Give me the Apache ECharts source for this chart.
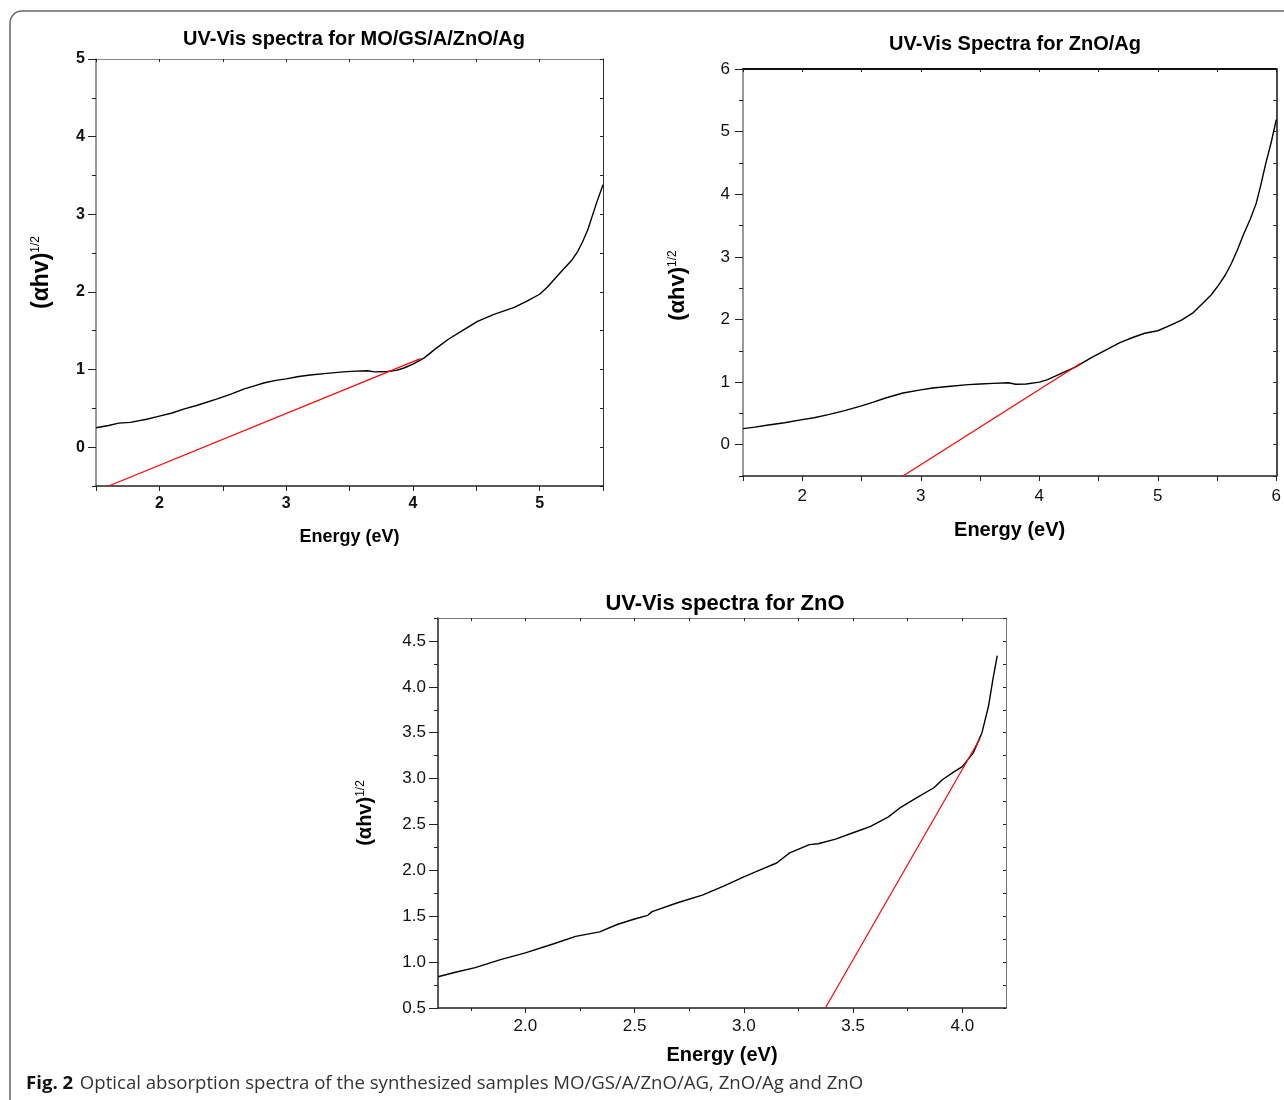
<!DOCTYPE html>
<html>
<head>
<meta charset="utf-8" />
<script src="https://cdn.jsdelivr.net/npm/echarts@6/dist/echarts.min.js"></script>
<style>
  html, body, #main { width: 100%; height: 100%; margin: 0; background: #fff; }
</style>
</head>
<body>
<div id="main"></div>
<script>
// MO/GS/A/ZnO/Ag
var mgEnergy = [1.5, 1.6, 1.68, 1.77, 1.9, 2.0, 2.1, 2.19, 2.3, 2.45, 2.56, 2.67, 2.75, 2.83, 2.92, 3.0, 3.1, 3.19, 3.32, 3.45, 3.55, 3.64, 3.655, 3.7, 3.8, 3.87, 3.93, 4.0, 4.09, 4.18, 4.28, 4.4, 4.51, 4.64, 4.8, 4.9, 5.0, 5.06, 5.12, 5.18, 5.25, 5.3, 5.34, 5.38, 5.41, 5.45, 5.5];
var mgValue = [0.25, 0.28, 0.31, 0.32, 0.36, 0.4, 0.44, 0.49, 0.54, 0.62, 0.68, 0.75, 0.79, 0.83, 0.86, 0.88, 0.91, 0.93, 0.95, 0.97, 0.98, 0.985, 0.97, 0.97, 0.975, 0.99, 1.02, 1.07, 1.15, 1.27, 1.39, 1.51, 1.62, 1.71, 1.8, 1.88, 1.97, 2.06, 2.17, 2.28, 2.4, 2.52, 2.65, 2.8, 2.95, 3.15, 3.38];
var mgFitEnergy = [1.6, 4.06];
var mgFitValue = [-0.5, 1.14];

// ZnO/Ag
var zaEnergy = [1.5, 1.6, 1.7, 1.85, 2.0, 2.1, 2.22, 2.35, 2.5, 2.6, 2.71, 2.85, 3.0, 3.1, 3.23, 3.4, 3.5, 3.61, 3.74, 3.755, 3.8, 3.89, 4.0, 4.07, 4.13, 4.2, 4.3, 4.44, 4.56, 4.68, 4.8, 4.89, 5.0, 5.1, 5.2, 5.3, 5.38, 5.45, 5.51, 5.57, 5.62, 5.67, 5.72, 5.78, 5.83, 5.87, 5.91, 5.96, 6.0];
var zaValue = [0.256, 0.28, 0.31, 0.35, 0.40, 0.43, 0.48, 0.54, 0.62, 0.68, 0.75, 0.825, 0.876, 0.905, 0.93, 0.96, 0.97, 0.98, 0.99, 0.965, 0.965, 0.97, 1.0, 1.04, 1.09, 1.15, 1.235, 1.39, 1.51, 1.63, 1.72, 1.78, 1.82, 1.9, 1.99, 2.11, 2.26, 2.39, 2.54, 2.71, 2.89, 3.1, 3.34, 3.6, 3.85, 4.15, 4.48, 4.85, 5.19];
var zaFitEnergy = [2.85, 4.35];
var zaFitValue = [-0.5, 1.3];

// ZnO
var zEnergy = [1.6, 1.68, 1.77, 1.89, 2.0, 2.13, 2.23, 2.34, 2.42, 2.5, 2.56, 2.58, 2.7, 2.81, 2.91, 3.0, 3.08, 3.15, 3.21, 3.3, 3.34, 3.42, 3.5, 3.58, 3.66, 3.72, 3.79, 3.87, 3.91, 3.96, 4.0, 4.05, 4.09, 4.12, 4.14, 4.16];
var zValue = [0.84, 0.89, 0.94, 1.03, 1.10, 1.20, 1.28, 1.33, 1.41, 1.47, 1.51, 1.55, 1.65, 1.73, 1.83, 1.93, 2.01, 2.08, 2.19, 2.28, 2.29, 2.34, 2.41, 2.48, 2.58, 2.69, 2.79, 2.90, 2.99, 3.07, 3.13, 3.28, 3.50, 3.79, 4.08, 4.34];
var zFitEnergy = [3.373, 4.082];
var zFitValue = [0.5, 3.44];

// tick labels
var mgXTicks = [2, 3, 4, 5];
var mgXMinor = [1.5, 2.5, 3.5, 4.5, 5.5];
var mgYTicks = [0, 1, 2, 3, 4, 5];
var mgYMinor = [-0.5, 0.5, 1.5, 2.5, 3.5, 4.5];
var zaXTicks = [2, 3, 4, 5, 6];
var zaXMinor = [1.5, 2.5, 3.5, 4.5, 5.5];
var zaYTicks = [0, 1, 2, 3, 4, 5, 6];
var zaYMinor = [-0.5, 0.5, 1.5, 2.5, 3.5, 4.5, 5.5];
var zXTicks = [2.0, 2.5, 3.0, 3.5, 4.0];
var zXMinor = [1.75, 2.25, 2.75, 3.25, 3.75];
var zYTicks = [0.5, 1.0, 1.5, 2.0, 2.5, 3.0, 3.5, 4.0, 4.5];
var zYMinor = [0.75, 1.25, 1.75, 2.25, 2.75, 3.25, 3.75, 4.25, 4.75];

var FONT = 'Liberation Sans, Arial, sans-serif';

function zip(a, b) {
  return a.map(function (v, i) { return [v, b[i]]; });
}

function axes(dim, grid, min, max, major, minor, o) {
  var isX = dim === 'x';
  var fmt = o.fixed ? function (v) { return v.toFixed(1); } : function (v) { return String(v); };
  var main = {
    type: 'value', gridIndex: grid, min: min, max: max,
    position: isX ? 'bottom' : 'left',
    splitLine: { show: false },
    axisLine: { onZero: false, lineStyle: { color: o.lineColor, width: 1.5 } },
    axisTick: { customValues: major, length: o.tickLen, lineStyle: { color: '#222', width: 1 } },
    axisLabel: {
      customValues: major, formatter: fmt, margin: o.margin,
      fontFamily: FONT, fontSize: o.fontSize, fontWeight: o.bold ? 'bold' : 'normal', color: '#111'
    },
    name: o.name, nameLocation: 'middle', nameGap: o.nameGap
  };
  if (isX) {
    main.nameTextStyle = { fontFamily: FONT, fontWeight: 'bold', fontSize: o.nameSize, color: '#000' };
  } else {
    main.nameRotate = 90;
    main.nameTextStyle = {
      padding: o.namePad || 0,
      rich: {
        a: { fontFamily: FONT, fontWeight: 'bold', fontSize: o.nameSize, color: '#000' },
        s: { fontFamily: FONT, fontWeight: 'normal', fontSize: 12, color: '#000', verticalAlign: 'top' }
      }
    };
  }
  var minorAxis = {
    type: 'value', gridIndex: grid, min: min, max: max,
    position: isX ? 'bottom' : 'left',
    splitLine: { show: false },
    axisLine: { show: false, onZero: false },
    axisLabel: { show: false },
    axisTick: { customValues: minor, length: o.minorLen, lineStyle: { color: '#222', width: 1 } }
  };
  var opposite = {
    type: 'value', gridIndex: grid, min: min, max: max,
    position: isX ? 'top' : 'right',
    splitLine: { show: false },
    axisLine: { onZero: false, lineStyle: { color: o.borderColor, width: o.borderWidth } },
    axisLabel: { show: false },
    axisTick: { inside: true, customValues: major.concat(minor), length: 3, lineStyle: { color: '#222' } }
  };
  return [main, minorAxis, opposite];
}

var chart = echarts.init(document.getElementById('main'));

var yName = '{a|(\u03b1hv)}{s|1/2}';

var xAxis = [].concat(
  axes('x', 0, 1.5, 5.5, mgXTicks, mgXMinor, { lineColor: '#222', tickLen: 5, minorLen: 5, margin: 10, fontSize: 16, bold: true, name: 'Energy (eV)', nameSize: 18, nameGap: 42, borderColor: '#888', borderWidth: 1 }),
  axes('x', 1, 1.5, 6, zaXTicks, zaXMinor, { lineColor: '#222', tickLen: 5, minorLen: 5, margin: 12, fontSize: 17, bold: false, name: 'Energy (eV)', nameSize: 20, nameGap: 44, borderColor: '#111', borderWidth: 2 }),
  axes('x', 2, 1.6, 4.2, zXTicks, zXMinor, { lineColor: '#222', tickLen: 5, minorLen: 3, margin: 10, fontSize: 17, bold: false, fixed: true, name: 'Energy (eV)', nameSize: 20, nameGap: 37, borderColor: '#777', borderWidth: 1 })
);
var yAxis = [].concat(
  axes('y', 0, -0.5, 5, mgYTicks, mgYMinor, { lineColor: '#777', tickLen: 8, minorLen: 4, margin: 11, fontSize: 16, bold: true, name: yName, nameSize: 23, nameGap: 43, borderColor: '#333', borderWidth: 1 }),
  axes('y', 1, -0.5, 6, zaYTicks, zaYMinor, { lineColor: '#777', tickLen: 8, minorLen: 4, margin: 13, fontSize: 17, bold: false, name: yName, nameSize: 22, nameGap: 54, namePad: [0, 26, 0, 0], borderColor: '#111', borderWidth: 1.5 }),
  axes('y', 2, 0.5, 4.75, zYTicks, zYMinor, { lineColor: '#222', tickLen: 9, minorLen: 4, margin: 12, fontSize: 17, bold: false, fixed: true, name: yName, nameSize: 20, nameGap: 63, borderColor: '#777', borderWidth: 1 })
);

function curve(idx, e, v, color) {
  return {
    type: 'line', xAxisIndex: idx * 3, yAxisIndex: idx * 3,
    data: zip(e, v), showSymbol: false, silent: true, clip: true,
    lineStyle: { color: color, width: color === '#000' ? 1.4 : 1.2 }
  };
}

chart.setOption({
  animation: false,
  title: [
    { text: 'UV-Vis spectra for MO/GS/A/ZnO/Ag', left: 349, top: 24, textAlign: 'center',
      textStyle: { fontFamily: FONT, fontWeight: 'bold', fontSize: 20, color: '#000' } },
    { text: 'UV-Vis Spectra for ZnO/Ag', left: 1010, top: 29, textAlign: 'center',
      textStyle: { fontFamily: FONT, fontWeight: 'bold', fontSize: 20, color: '#000' } },
    { text: 'UV-Vis spectra for ZnO', left: 720, top: 588, textAlign: 'center',
      textStyle: { fontFamily: FONT, fontWeight: 'bold', fontSize: 22, color: '#000' } }
  ],
  grid: [
    { left: 96, top: 59, width: 507, height: 427 },
    { left: 743, top: 69, width: 534, height: 407 },
    { left: 438, top: 618, width: 568, height: 390 }
  ],
  xAxis: xAxis,
  yAxis: yAxis,
  series: [
    curve(0, mgEnergy, mgValue, '#000'),
    curve(0, mgFitEnergy, mgFitValue, '#ff0000'),
    curve(1, zaEnergy, zaValue, '#000'),
    curve(1, zaFitEnergy, zaFitValue, '#ff0000'),
    curve(2, zEnergy, zValue, '#000'),
    curve(2, zFitEnergy, zFitValue, '#ff0000')
  ],
  graphic: [
    { type: 'rect', silent: true, z: -1,
      shape: { x: 10, y: 11, width: 1300, height: 1120, r: [12, 0, 0, 0] },
      style: { fill: 'none', stroke: '#666', lineWidth: 1.5 } },
    { type: 'text', left: 26, top: 1074,
      style: {
        text: '{b|Fig. 2}  {r|Optical absorption spectra of the synthesized samples MO/GS/A/ZnO/AG, ZnO/Ag and ZnO}',
        rich: {
          b: { fontFamily: 'Open Sans, Noto Sans, sans-serif', fontWeight: 'bold', fontSize: 18.6, fill: '#111' },
          r: { fontFamily: 'Open Sans, Noto Sans, sans-serif', fontSize: 18.6, fill: '#333' }
        }
      } }
  ]
});

window.onresize = function () {
  chart.resize();
};
</script>
</body>
</html>
